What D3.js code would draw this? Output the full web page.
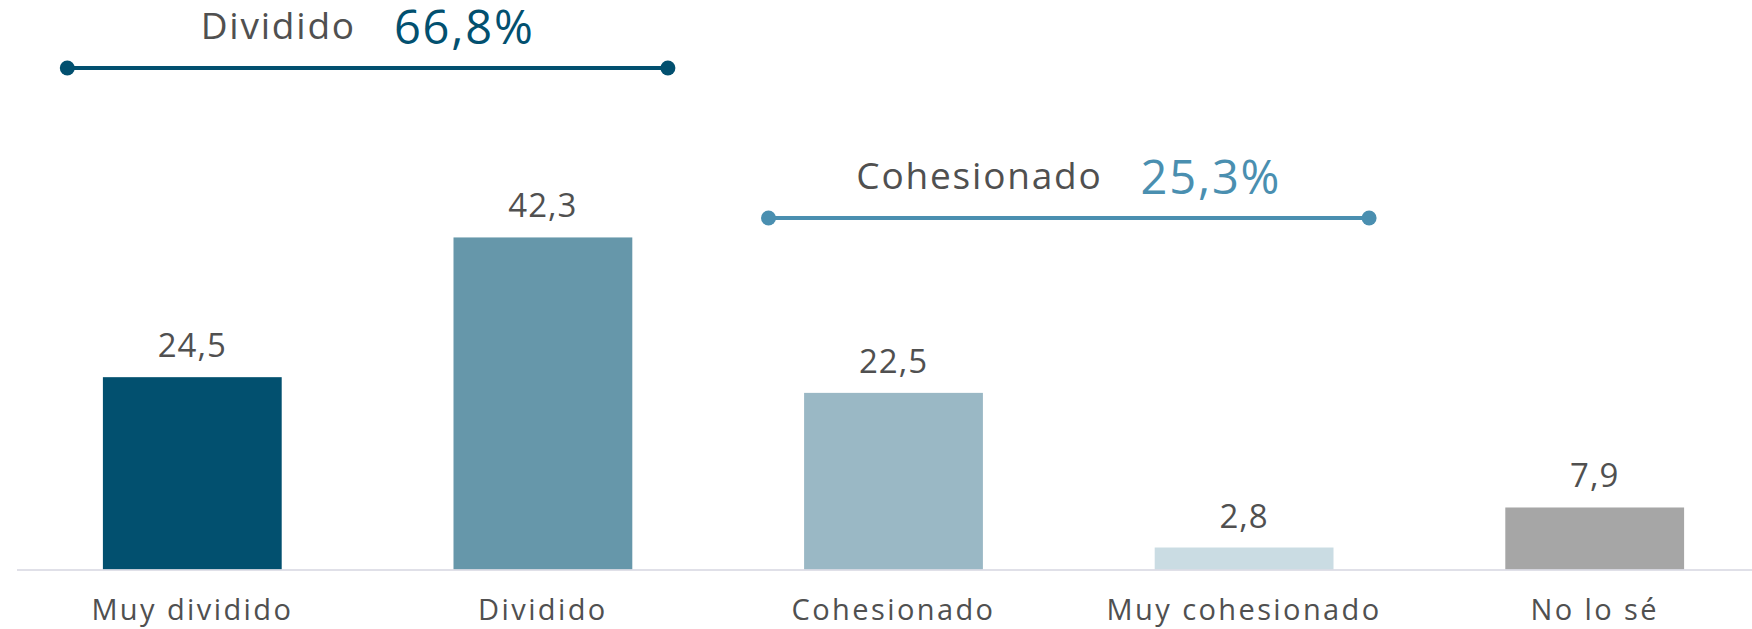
<!DOCTYPE html>
<html>
<head>
<meta charset="utf-8">
<script src="https://cdn.jsdelivr.net/npm/d3@7"></script>
<style>
  html, body { margin: 0; padding: 0; background: #ffffff; }
  svg { display: block; }
  text { font-family: "Open Sans", "Noto Sans", sans-serif; }
</style>
</head>
<body>
<svg id="chart" width="1752" height="629"></svg>
<script>
// ---- data ----
const categories = ["Muy dividido", "Dividido", "Cohesionado", "Muy cohesionado", "No lo sé"];
const values = [24.5, 42.3, 22.5, 2.8, 7.9];
const barColors = ["#02506f", "#6697aa", "#9ab8c5", "#cadce3", "#a6a6a6"];
const groupLabels = ["Dividido", "Cohesionado"];
const groupTotals = ["66,8%", "25,3%"];
const groupFirst = [0, 2];
const groupLast = [1, 3];
const groupColors = ["#02506f", "#4a8fb0"];

const fmt = v => String(v).replace(".", ",");

const svg = d3.select("#chart");
const W = 1752, baseY = 570;

const x = d3.scaleBand()
  .domain(categories)
  .range([17, 1770])
  .paddingInner(0.49)
  .paddingOuter(0.245);

const y = d3.scaleLinear()
  .domain([0, 50])
  .range([baseY - 0.5, baseY - 0.5 - 392.5]);

// bars
svg.append("g").selectAll("rect")
  .data(values)
  .join("rect")
  .attr("x", (d, i) => x(categories[i]))
  .attr("y", d => y(d))
  .attr("width", x.bandwidth())
  .attr("height", d => y(0) - y(d))
  .attr("fill", (d, i) => barColors[i]);

// axis
const axis = svg.append("g")
  .attr("transform", `translate(0,${baseY})`)
  .call(d3.axisBottom(x).tickSize(0).tickPadding(0));
axis.select(".domain").remove();
axis.append("line")
  .attr("x1", 17).attr("x2", W)
  .attr("stroke", "#d6d6e1").attr("stroke-width", 1.6);
axis.selectAll(".tick text")
  .attr("y", 50)
  .attr("dy", 0)
  .attr("fill", "#505050")
  .style("font-size", "29px")
  .style("letter-spacing", "2.4px")
  .style("font-family", '"Open Sans", sans-serif');

// value labels
svg.append("g").selectAll("text")
  .data(values)
  .join("text")
  .attr("x", (d, i) => x(categories[i]) + x.bandwidth() / 2)
  .attr("y", d => y(d) - 20)
  .attr("text-anchor", "middle")
  .attr("fill", "#505050")
  .style("font-size", "33px")
  .style("letter-spacing", "1px")
  .text(d => fmt(d));

// group brackets
const lineY = [68, 218];
const ext = 125;
groupLabels.forEach((lab, g) => {
  const c0 = x(categories[groupFirst[g]]) + x.bandwidth() / 2 - ext;
  const c1 = x(categories[groupLast[g]]) + x.bandwidth() / 2 + ext;
  const gy = lineY[g];
  const grp = svg.append("g");
  grp.append("line")
    .attr("x1", c0).attr("x2", c1)
    .attr("y1", gy).attr("y2", gy)
    .attr("stroke", groupColors[g]).attr("stroke-width", 4);
  grp.selectAll("circle").data([c0, c1]).join("circle")
    .attr("cx", d => d).attr("cy", gy).attr("r", 7.5)
    .attr("fill", groupColors[g]);
  const t = grp.append("text")
    .attr("x", (c0 + c1) / 2)
    .attr("y", gy - 29)
    .attr("text-anchor", "middle");
  t.append("tspan")
    .attr("fill", "#505050")
    .style("font-size", "37px")
    .style("letter-spacing", "1.8px")
    .text(lab);
  t.append("tspan")
    .attr("dx", 38)
    .attr("dy", 5)
    .attr("fill", groupColors[g])
    .style("font-size", "47px")
    .style("font-weight", 500)
    .style("letter-spacing", "1.8px")
    .text(groupTotals[g]);
});
</script>
</body>
</html>
